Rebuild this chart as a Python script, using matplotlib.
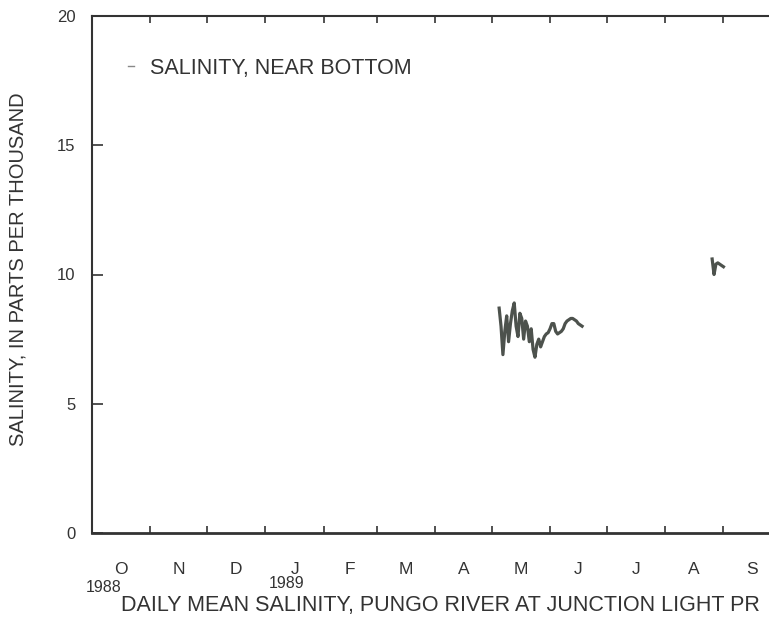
import matplotlib
matplotlib.use("Agg")
import matplotlib.pyplot as plt
import matplotlib.transforms as mtransforms
from matplotlib.lines import Line2D
import pandas as pd

plt.rcParams['font.family'] = ['Liberation Sans', 'DejaVu Sans']

# Daily mean salinity near bottom (ppt)
may_start = "1989-05-05"
may_values = [8.7, 8.0, 6.9, 7.8, 8.4, 7.4, 8.1, 8.6, 8.9, 8.0,
              7.6, 8.5, 8.3, 7.5, 8.2, 8.0, 7.4, 7.9, 7.1, 6.8,
              7.3, 7.5, 7.2, 7.4, 7.6, 7.7, 7.75, 7.9, 8.1, 8.1,
              7.8, 7.7, 7.75, 7.8, 7.9, 8.1, 8.2, 8.25, 8.3, 8.3,
              8.25, 8.2, 8.1, 8.05, 8.0]
aug_start = "1989-08-26"
aug_values = [10.6, 10.0, 10.4, 10.45, 10.4, 10.35, 10.3]

month_letters = ["O", "N", "D", "J", "F", "M", "A", "M", "J", "J", "A", "S"]
year_labels = [("1988-10-07", "1988"), ("1989-01-12", "1989")]
y_ticks = [0, 5, 10, 15, 20]
title = "DAILY MEAN SALINITY, PUNGO RIVER AT JUNCTION LIGHT PR"
legend_label = "SALINITY, NEAR BOTTOM"
ylabel = "SALINITY, IN PARTS PER THOUSAND"

may_dates = pd.date_range(may_start, periods=len(may_values), freq="D")
aug_dates = pd.date_range(aug_start, periods=len(aug_values), freq="D")

fig = plt.figure(figsize=(7.69, 6.21), dpi=100)
ax = fig.add_axes([92/769, 88/621, 688/769, 517/621])

line_color = "#4d524d"
ax.plot(may_dates, may_values, color=line_color, lw=2.3)
ax.plot(aug_dates, aug_values, color=line_color, lw=2.3)

ax.set_xlim(pd.Timestamp("1988-10-01"), pd.Timestamp("1989-10-01"))
ax.set_ylim(0, 20)

# month boundary ticks (inward), month letters at mid-month
month_starts = pd.date_range("1988-10-01", "1989-10-01", freq="MS")
ax.set_xticks(month_starts[1:-1])
ax.set_xticklabels([])
mids = month_starts[:-1] + (month_starts[1:] - month_starts[:-1]) / 2
ax.set_xticks(mids, minor=True)
ax.set_xticklabels(month_letters, minor=True)
ax.tick_params(axis='x', which='major', direction='in', length=5, width=1.2,
               top=True, color="#333333")
ax.tick_params(axis='x', which='minor', length=0, pad=21, labelsize=12.5,
               labelcolor="#333333")

ax.set_yticks(y_ticks)
ax.tick_params(axis='y', direction='in', length=8, width=1.2, pad=12,
               labelsize=12, labelcolor="#333333", color="#333333")

trans = mtransforms.blended_transform_factory(ax.transData, fig.transFigure)
ax.text(pd.Timestamp(year_labels[0][0]), 1 - 587/621, year_labels[0][1],
        transform=trans, ha='center', va='center', fontsize=11.5,
        color="#333333")
ax.text(pd.Timestamp(year_labels[1][0]), 1 - 584/621, year_labels[1][1],
        transform=trans, ha='center', va='center', fontsize=11.5,
        color="#333333")

ax.set_ylabel(ylabel, fontsize=14.5, color="#333333")
ax.yaxis.set_label_coords(-0.094, 0.51)

fig.text(440/769, 1 - 606/621, title, ha='center', va='center',
         fontsize=15.5, color="#333333")

for s in ['left', 'top', 'bottom', 'right']:
    ax.spines[s].set_color("#333333")
ax.spines['bottom'].set_linewidth(2.0)
ax.spines['left'].set_linewidth(1.5)
ax.spines['top'].set_linewidth(1.5)

handle = Line2D([], [], color="#888888", lw=1.0)
leg = ax.legend([handle], [legend_label], loc='upper left', frameon=False,
                handlelength=0.3, handletextpad=0.7, fontsize=15.5,
                borderaxespad=0, borderpad=0,
                bbox_to_anchor=(36/688, 1 - 42/517))
for t in leg.get_texts():
    t.set_color("#333333")

fig.savefig("out.png", dpi=100)
